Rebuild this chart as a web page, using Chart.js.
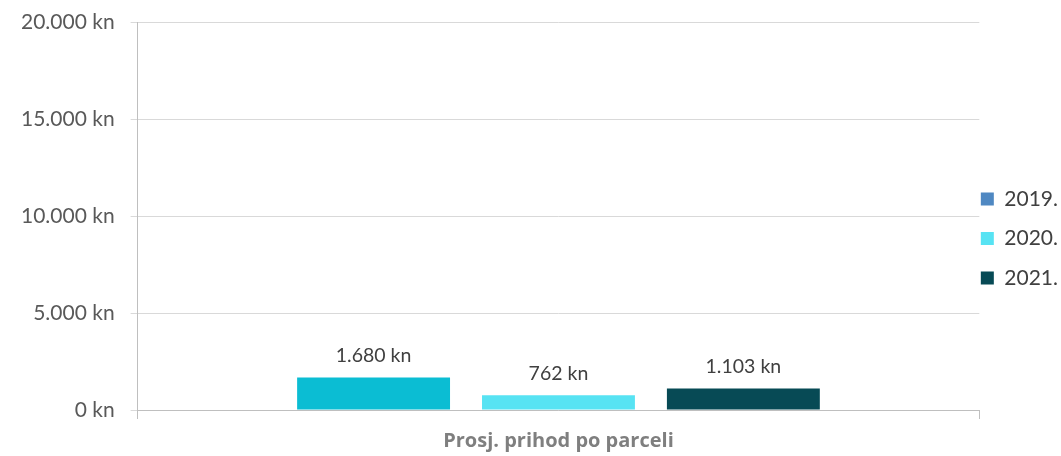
<!DOCTYPE html>
<html>
<head>
<meta charset="utf-8">
<script src="https://cdn.jsdelivr.net/npm/chart.js@4"></script>
<style>
html,body{margin:0;padding:0;background:#fff;}
#wrap{width:1061px;height:456px;}
</style>
</head>
<body>
<div id="wrap"><canvas id="c" width="1061" height="456"></canvas></div>
<script>
const categories = ["Prosj. prihod po parceli"];
const seriesNames = ["2019.", "2020.", "2021."];
const values2019 = [1680];
const values2020 = [762];
const values2021 = [1103];
const yTicks = [0, 5000, 10000, 15000, 20000];

const barColors = ["#0BBDD3", "#57E3F3", "#074A55"];
const legendColors = ["#4F88C2", "#57E3F3", "#074A55"];

function fmt(v){
  return v.toString().replace(/\B(?=(\d{3})+(?!\d))/g, ".") + " kn";
}

const labelPlugin = {
  id: 'barLabels',
  afterDatasetsDraw(chart){
    const ctx = chart.ctx;
    ctx.save();
    ctx.font = '19.5px Lato';
    ctx.fillStyle = '#404040';
    ctx.textAlign = 'center';
    ctx.textBaseline = 'bottom';
    chart.data.datasets.forEach((ds, i) => {
      const meta = chart.getDatasetMeta(i);
      meta.data.forEach((el, j) => {
        ctx.fillText(fmt(ds.data[j]), el.x, el.y - 12);
      });
    });
    ctx.restore();
  }
};

// nudges the built-in legend closer to the plot area
const legendNudge = {
  id: 'legendNudge',
  afterLayout(chart, args, opts){
    const lg = chart.legend;
    if (!lg) return;
    lg.left += opts.dx; lg.right += opts.dx;
    lg.top += opts.dy; lg.bottom += opts.dy;
  }
};

new Chart(document.getElementById('c'), {
  type: 'bar',
  data: {
    labels: categories,
    datasets: [
      {label: seriesNames[0], data: values2019, backgroundColor: barColors[0]},
      {label: seriesNames[1], data: values2020, backgroundColor: barColors[1]},
      {label: seriesNames[2], data: values2021, backgroundColor: barColors[2]}
    ]
  },
  options: {
    responsive: false,
    animation: false,
    devicePixelRatio: 1,
    categoryPercentage: 0.659,
    barPercentage: 0.827,
    layout: {padding: {left: 5, top: 22, right: -24, bottom: -7}},
    plugins: {
      tooltip: {enabled: false},
      legendNudge: {dx: -17, dy: -4},
      legend: {
        position: 'right',
        labels: {
          font: {family: 'Lato', size: 21},
          color: '#404040',
          boxWidth: 13,
          boxHeight: 13,
          padding: 18.5,
          generateLabels(chart){
            return chart.data.datasets.map((ds, i) => ({
              text: ds.label,
              fillStyle: legendColors[i],
              strokeStyle: legendColors[i],
              lineWidth: 0,
              datasetIndex: i,
              fontColor: '#404040'
            }));
          }
        }
      }
    },
    scales: {
      x: {
        grid: {display: true, drawOnChartArea: false, color: '#BFBFBF', tickLength: 9, offset: true},
        border: {color: '#BFBFBF'},
        ticks: {font: {family: 'Open Sans', size: 20, weight: 'bold'}, color: '#7F7F7F', padding: 10}
      },
      y: {
        min: 0, max: 20000,
        afterBuildTicks(scale){ scale.ticks = yTicks.map(v => ({value: v})); },
        afterFit(scale){ scale.paddingTop = 0; },
        grid: {color: '#D9D9D9', tickLength: 7},
        border: {color: '#BFBFBF'},
        ticks: {font: {family: 'Lato', size: 21}, color: '#595959', padding: 16, callback: v => fmt(v)}
      }
    }
  },
  plugins: [labelPlugin, legendNudge]
});
</script>
</body>
</html>
